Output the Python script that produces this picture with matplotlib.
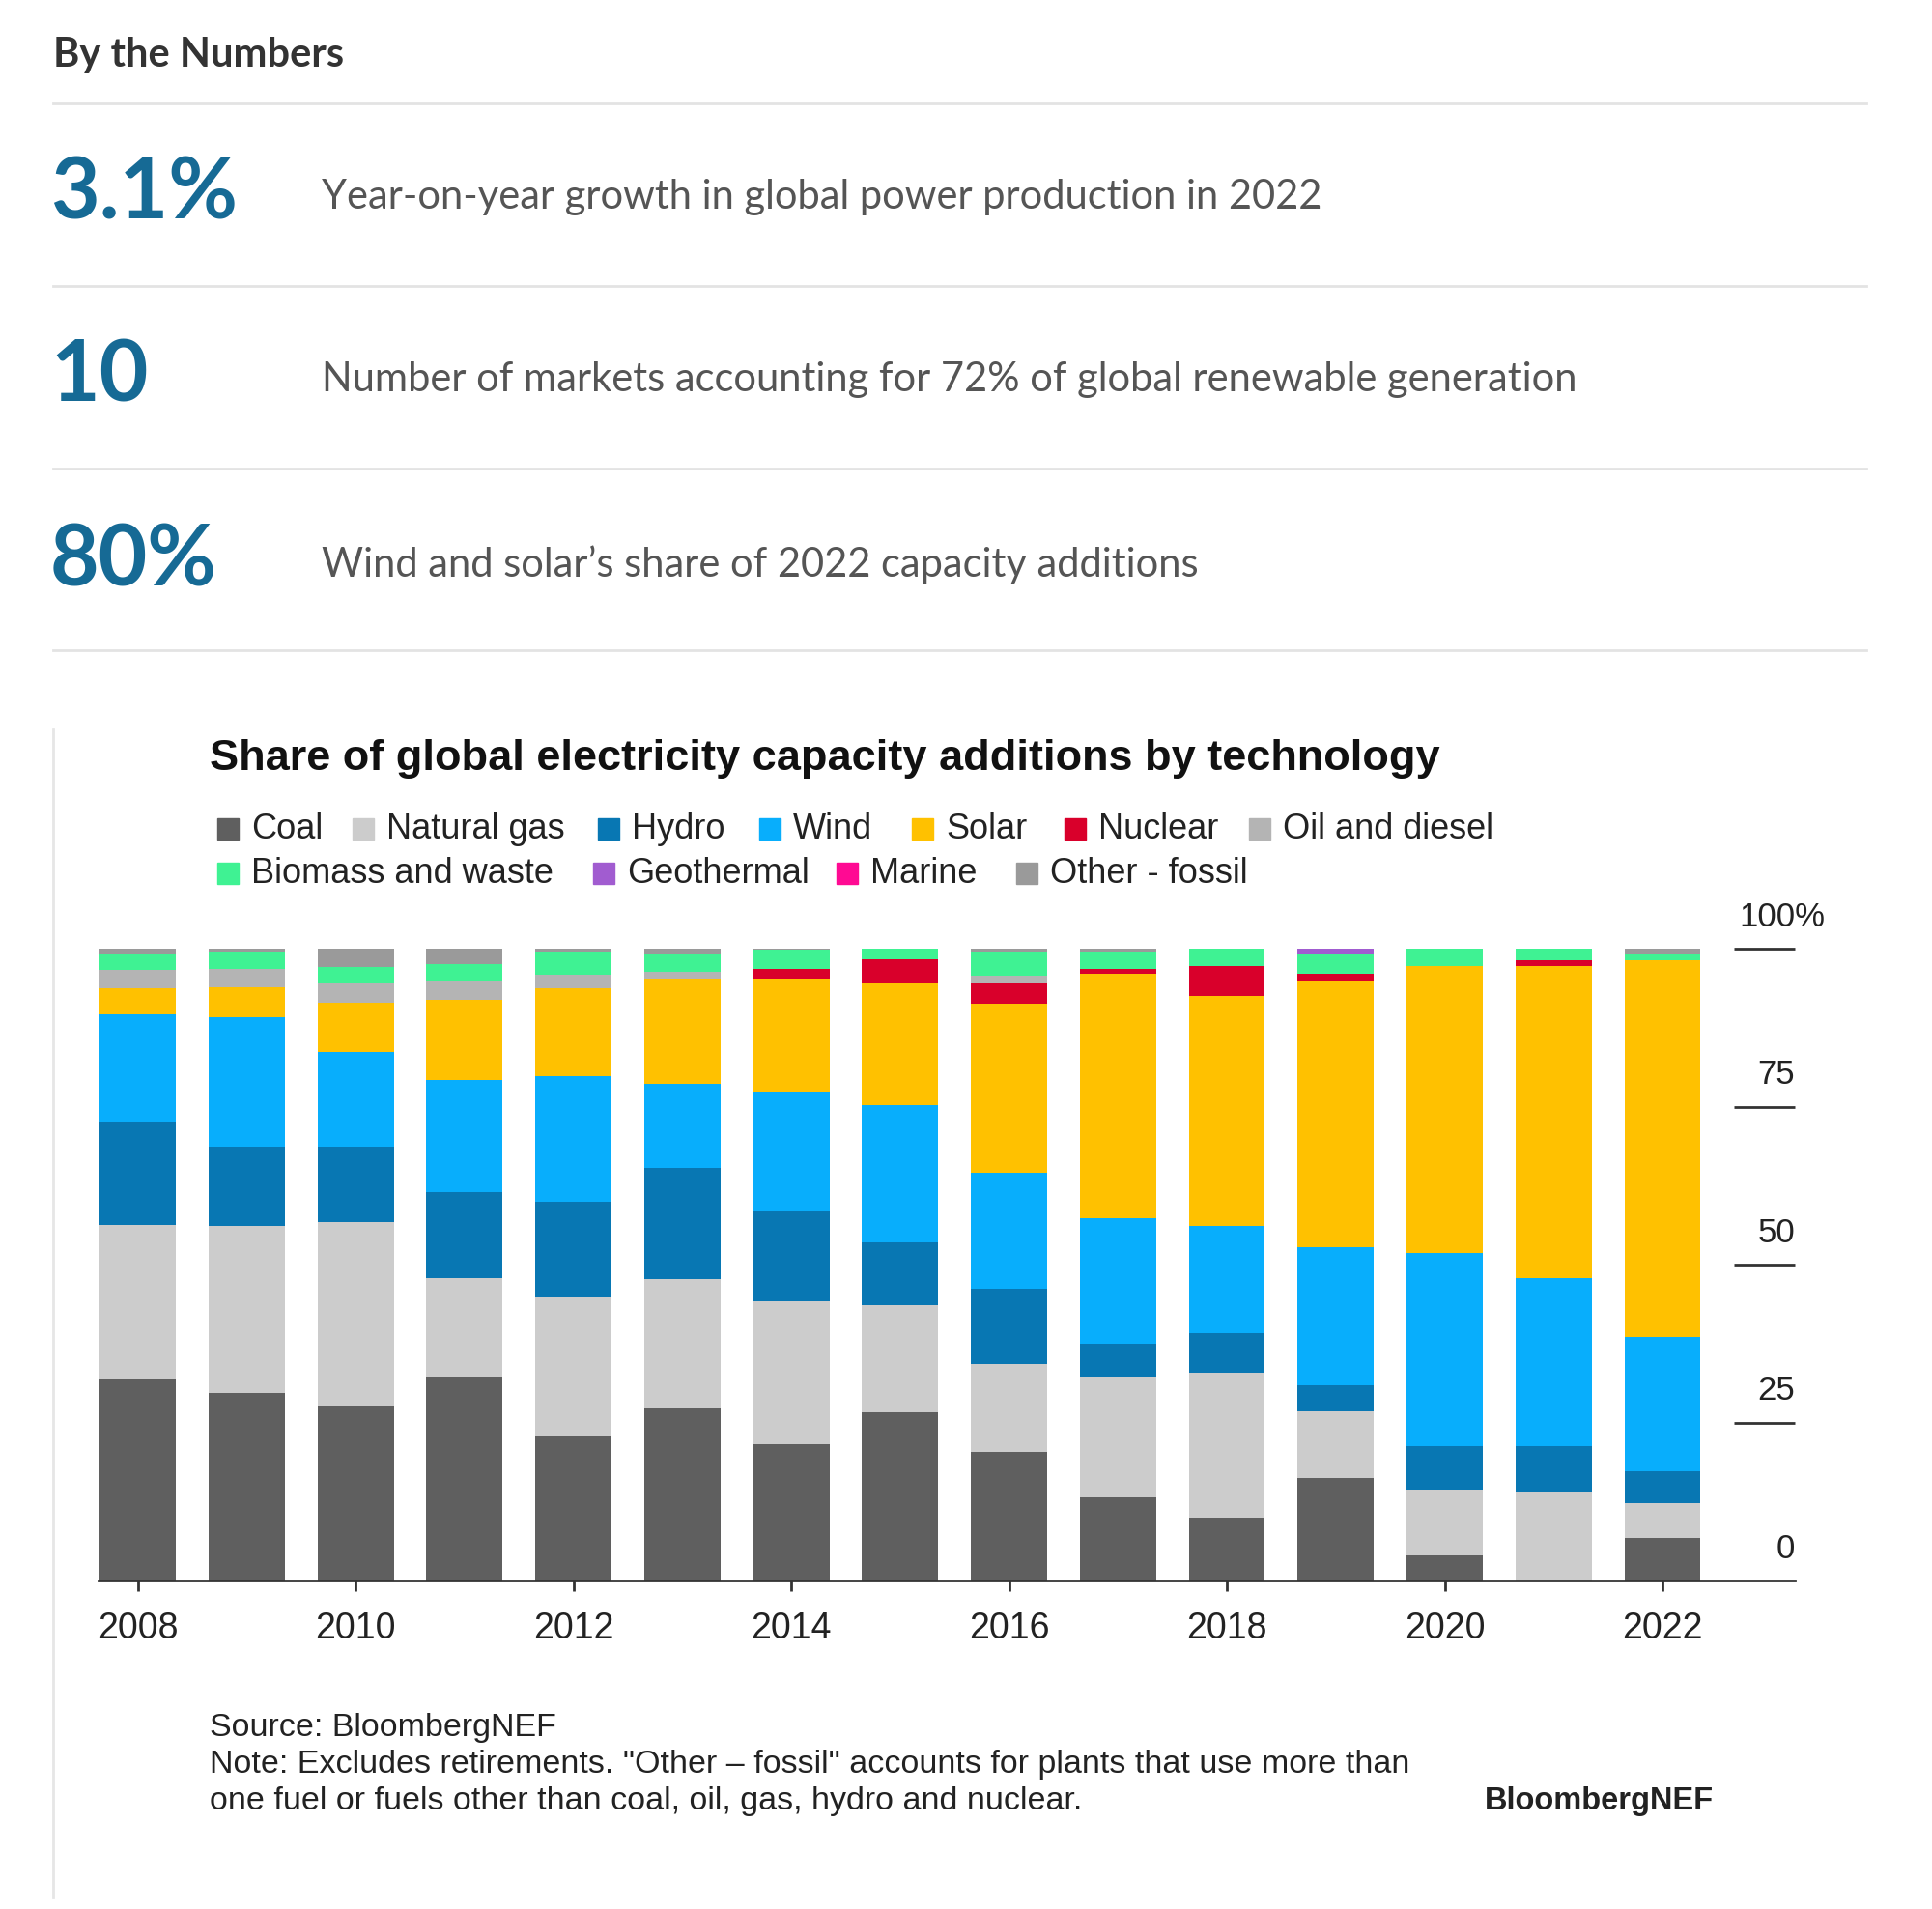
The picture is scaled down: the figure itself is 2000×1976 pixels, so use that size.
import matplotlib
matplotlib.use("Agg")
import matplotlib.pyplot as plt
from matplotlib.lines import Line2D
from matplotlib.patches import Rectangle
import numpy as np

# data (share of capacity additions, %)
years = list(range(2008, 2023))
techs = ["Coal", "Natural gas", "Hydro", "Wind", "Solar", "Nuclear", "Oil and diesel",
         "Biomass and waste", "Geothermal", "Marine", "Other - fossil"]
coal = [31.9, 29.6, 27.6, 32.2, 23.0, 27.3, 21.5, 26.6, 20.4, 13.2, 10.0, 16.2, 3.9, 0.0, 6.8]
gas = [24.3, 26.5, 29.2, 15.7, 21.8, 20.4, 22.7, 17.0, 13.9, 19.0, 22.9, 10.6, 10.4, 14.1, 5.4]
hydro = [16.4, 12.6, 11.9, 13.5, 15.2, 17.6, 14.2, 9.9, 11.9, 5.3, 6.3, 4.1, 7.0, 7.2, 5.1]
wind = [17.0, 20.5, 14.9, 17.8, 19.8, 13.3, 18.9, 21.7, 18.4, 19.8, 16.9, 21.8, 30.6, 26.6, 21.2]
solar = [4.1, 4.7, 7.9, 12.7, 13.9, 16.6, 17.9, 19.5, 26.7, 38.7, 36.4, 42.2, 45.3, 49.3, 59.6]
nuclear = [0.0, 0.0, 0.0, 0.0, 0.0, 0.0, 1.6, 3.6, 3.2, 0.8, 4.7, 1.1, 0.0, 0.9, 0.0]
oil = [2.9, 2.9, 3.0, 3.0, 2.2, 1.2, 0.0, 0.0, 1.2, 0.0, 0.0, 0.0, 0.0, 0.0, 0.0]
biomass = [2.5, 2.7, 2.6, 2.7, 3.6, 2.7, 3.0, 1.7, 3.8, 2.7, 2.8, 3.3, 2.8, 1.9, 1.0]
geothermal = [0.0, 0.0, 0.0, 0.0, 0.0, 0.0, 0.0, 0.0, 0.0, 0.0, 0.0, 0.7, 0.0, 0.0, 0.0]
marine = [0.0] * 15
other_fossil = [0.9, 0.5, 2.9, 2.4, 0.5, 0.9, 0.2, 0.0, 0.5, 0.5, 0.0, 0.0, 0.0, 0.0, 0.9]

series = [coal, gas, hydro, wind, solar, nuclear, oil, biomass, geothermal, marine, other_fossil]
colors = ["#5f5f5f", "#cccccc", "#0877b3", "#08aefc", "#ffc100", "#d9002b", "#b4b4b4",
          "#3ff293", "#a15cd0", "#ff0a93", "#9a9a9a"]

stats = ["3.1%", "10", "80%"]
stat_texts = ["Year-on-year growth in global power production in 2022",
              "Number of markets accounting for 72% of global renewable generation",
              "Wind and solar\u2019s share of 2022 capacity additions"]

W, H = 2000, 1976
fig = plt.figure(figsize=(W / 100, H / 100), dpi=100)


def fx(px):
    return px / W


def fy(py):
    return 1 - py / H


# header block
fig.text(fx(55), fy(57), "By the Numbers", family="Lato", weight="bold", fontsize=30,
         color="#333333", va="center")
for py in [107, 296, 485, 673]:
    fig.add_artist(Line2D([fx(55), fx(1932)], [fy(py), fy(py)], color="#e3e3e3", lw=2))
for i, (s, t) in enumerate(zip(stats, stat_texts)):
    yc = [201, 390, 581][i]
    fig.text(fx(52), fy(yc), s, family="Lato", weight="bold", fontsize=63,
             color="#166a95", va="center")
    fig.text(fx(333), fy(yc + 3), t, family="Lato", fontsize=30, color="#555555", va="center")

# chart frame line on the left
fig.add_artist(Line2D([fx(55), fx(55)], [fy(755), fy(1964)], color="#e6e6e6", lw=2))

fig.text(fx(217), fy(785), "Share of global electricity capacity additions by technology",
         family="Liberation Sans", weight="bold", fontsize=32.5, color="#111111", va="center")

# legend, laid out by hand
leg_pos = [(225, 858), (365, 858), (619, 858), (786, 858), (944, 858), (1102, 858), (1293, 858),
           (225, 904), (614, 904), (866, 904), (1052, 904)]
for name, c, (px, py) in zip(techs, colors, leg_pos):
    fig.add_artist(Rectangle((fx(px), fy(py + 11)), fx(22), 22 / H, color=c,
                             transform=fig.transFigure))
    fig.text(fx(px + 35), fy(py), name, family="Liberation Sans", fontsize=26,
             color="#222222", va="center")

# bar chart
ax = fig.add_axes([fx(102), fy(1636), fx(1858 - 102), (1636 - 982) / H])
bottom = np.zeros(len(years))
for vals, c in zip(series, colors):
    ax.bar(years, vals, bottom=bottom, width=0.7, color=c, linewidth=0)
    bottom += np.array(vals)

ax.set_xlim(2007.64, 2023.215)
ax.set_ylim(0, 100)
for sp in ["top", "right", "left"]:
    ax.spines[sp].set_visible(False)
ax.spines["bottom"].set_color("#333333")
ax.spines["bottom"].set_linewidth(2)
ax.set_yticks([])
ax.set_xticks(years[::2])
ax.set_xticklabels([str(y) for y in years[::2]], family="Liberation Sans", fontsize=27,
                   color="#222222")
ax.tick_params(axis="x", length=8, width=2, color="#333333", pad=15)

for v in [25, 50, 75, 100]:
    ax.hlines(v, 2022.66, 2023.215, color="#333333", lw=2, clip_on=False)
for v in [0, 25, 50, 75]:
    ax.text(2023.215, v + 5, str(v), ha="right", va="center", family="Liberation Sans",
            fontsize=25, color="#222222", clip_on=False)
ax.text(2023.49, 105, "100%", ha="right", va="center", family="Liberation Sans",
        fontsize=25, color="#222222", clip_on=False)

# footnotes
note_kw = dict(family="Liberation Sans", fontsize=24.5, color="#222222", va="center")
fig.text(fx(217), fy(1788), "Source: BloombergNEF", **note_kw)
fig.text(fx(217), fy(1826),
         "Note: Excludes retirements. \"Other \u2013 fossil\" accounts for plants that use more than",
         **note_kw)
fig.text(fx(217), fy(1864), "one fuel or fuels other than coal, oil, gas, hydro and nuclear.",
         **note_kw)
fig.text(fx(1537), fy(1864), "BloombergNEF", family="Liberation Sans", weight="bold",
         fontsize=23.5, color="#222222", va="center")

fig.savefig("out.png", dpi=100, facecolor="white")
